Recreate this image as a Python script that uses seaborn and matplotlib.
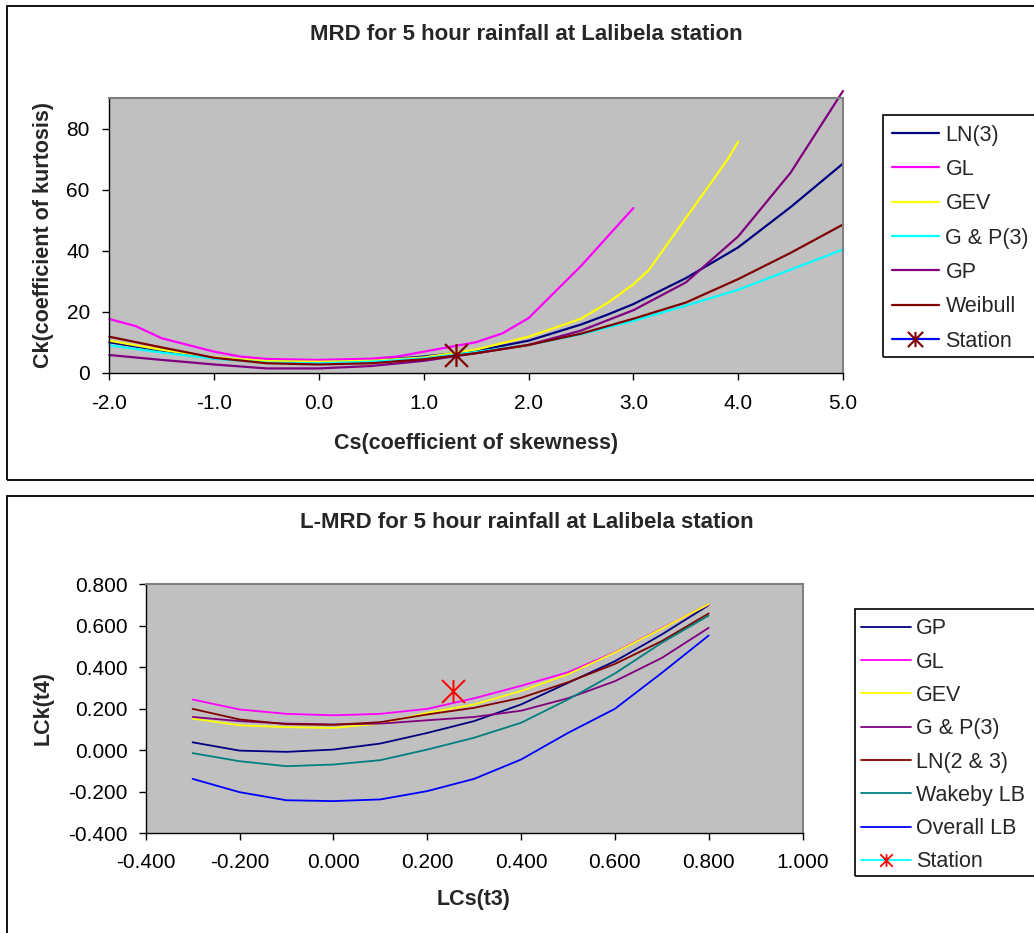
import pandas as pd
import matplotlib
matplotlib.use('Agg')
import matplotlib.pyplot as plt
import seaborn as sns
from matplotlib.lines import Line2D
from matplotlib.path import Path
from matplotlib.patches import Rectangle
from matplotlib.ticker import FormatStrFormatter, MultipleLocator

# ---------------- MRD (Cs vs Ck) ----------------
cs_grid = [-2.0, -1.5, -1.0, -0.5, 0.0, 0.5, 1.0, 1.5, 2.0, 2.5, 3.0, 3.5, 4.0, 4.5, 5.0]
cs_ln3 = [-2.0, -1.5, -1.0, -0.5, 0.0, 0.5, 1.0, 1.5, 2.0, 2.5, 2.75, 3.0, 3.5, 4.0, 4.5, 5.0]
ck_ln3 = [10.0, 7.2, 4.7, 3.6, 3.6, 3.9, 5.3, 7.2, 10.5, 15.8, 19.0, 22.5, 31.0, 41.1, 54.3, 68.6]
cs_gl = [-2.0, -1.75, -1.5, -1.0, -0.75, -0.5, 0.0, 0.5, 0.75, 1.0, 1.5, 1.75, 2.0, 2.5, 3.0]
ck_gl = [17.6, 15.3, 11.3, 6.9, 5.3, 4.5, 4.2, 4.6, 5.3, 6.9, 10.0, 12.9, 17.9, 35.0, 54.0]
cs_gev = [-2.0, -1.5, -1.0, -0.5, 0.0, 0.5, 1.0, 1.5, 2.0, 2.5, 2.75, 3.0, 3.15, 3.9, 4.0]
ck_gev = [10.5, 7.5, 5.0, 3.8, 3.6, 3.9, 5.0, 7.6, 11.8, 17.7, 22.8, 29.0, 33.8, 70.0, 75.8]
ck_gp3 = [9.0, 6.6, 4.6, 3.3, 3.1, 3.6, 4.7, 6.8, 9.1, 12.6, 17.0, 22.0, 27.2, 33.8, 40.4]
ck_gp = [5.8, 4.2, 2.7, 1.4, 1.4, 2.2, 3.9, 6.4, 9.1, 13.8, 20.5, 29.6, 44.7, 65.6, 92.4]
ck_weib = [11.8, 8.3, 4.9, 3.1, 2.7, 3.1, 4.4, 6.4, 9.1, 12.8, 17.7, 23.0, 30.7, 39.3, 48.6]
station_cs = [1.31]
station_ck = [5.8]

top_names = ['LN(3)', 'GL', 'GEV', 'G & P(3)', 'GP', 'Weibull']
top_colors = ['#000080', '#FF00FF', '#FFFF00', '#00FFFF', '#800080', '#800000']

# ---------------- L-MRD (LCs vs LCk) ----------------
lcs = [-0.3, -0.2, -0.1, 0.0, 0.1, 0.2, 0.3, 0.4, 0.5, 0.6, 0.7, 0.8]
lck_gp = [0.038, -0.002, -0.008, 0.003, 0.032, 0.083, 0.14, 0.22, 0.324, 0.428, 0.557, 0.698]
lck_gl = [0.244, 0.196, 0.175, 0.168, 0.175, 0.199, 0.25, 0.31, 0.375, 0.472, 0.587, 0.701]
lck_gev = [0.152, 0.12, 0.111, 0.107, 0.128, 0.18, 0.22, 0.285, 0.365, 0.47, 0.585, 0.703]
lck_gp3 = [0.16, 0.14, 0.128, 0.124, 0.128, 0.144, 0.16, 0.19, 0.25, 0.332, 0.444, 0.589]
lck_ln = [0.199, 0.148, 0.125, 0.122, 0.135, 0.172, 0.204, 0.252, 0.327, 0.415, 0.525, 0.658]
lck_wak = [-0.014, -0.053, -0.077, -0.069, -0.048, 0.003, 0.06, 0.132, 0.244, 0.369, 0.517, 0.648]
lck_olb = [-0.138, -0.202, -0.241, -0.245, -0.237, -0.197, -0.138, -0.045, 0.083, 0.199, 0.372, 0.552]
station_lcs = [0.254]
station_lck = [0.284]

bot_names = ['GP', 'GL', 'GEV', 'G & P(3)', 'LN(2 & 3)', 'Wakeby LB', 'Overall LB']
bot_colors = ['#000080', '#FF00FF', '#FFFF00', '#800080', '#800000', '#008080', '#0000FF']

# long tables for seaborn
top_series = [(cs_ln3, ck_ln3), (cs_gl, ck_gl), (cs_gev, ck_gev),
              (cs_grid, ck_gp3), (cs_grid, ck_gp), (cs_grid, ck_weib)]
df_top = pd.concat([pd.DataFrame({'x': xs, 'y': ys, 'dist': n})
                    for n, (xs, ys) in zip(top_names, top_series)])
bot_series = [lck_gp, lck_gl, lck_gev, lck_gp3, lck_ln, lck_wak, lck_olb]
df_bot = pd.concat([pd.DataFrame({'x': lcs, 'y': ys, 'dist': n})
                    for n, ys in zip(bot_names, bot_series)])

sns.set_theme(style='ticks')
plt.rcParams['font.family'] = ['Liberation Sans', 'DejaVu Sans']
plt.rcParams['axes.unicode_minus'] = False

W, H = 1034, 933
fig = plt.figure(figsize=(W / 100, H / 100), dpi=100)

# excel-like asterisk marker (vertical bar + X)
star = Path([(0, -1), (0, 1), (-1, -1), (1, 1), (-1, 1), (1, -1)],
            [Path.MOVETO, Path.LINETO, Path.MOVETO, Path.LINETO, Path.MOVETO, Path.LINETO])


def px_axes(left, top, right, bottom):
    return fig.add_axes([left / W, 1 - bottom / H, (right - left) / W, (bottom - top) / H])


def px_box(left, top, right, bottom, lw=1.3):
    fig.add_artist(Rectangle((left / W, 1 - bottom / H), (right - left) / W, (bottom - top) / H,
                             transform=fig.transFigure, fill=False, ec='black', lw=lw))


def style_axes(ax):
    ax.set_facecolor('#C0C0C0')
    for s in ['left', 'bottom']:
        ax.spines[s].set_color('black')
        ax.spines[s].set_linewidth(1.0)
    for s in ['top', 'right']:
        ax.spines[s].set_visible(True)
        ax.spines[s].set_color('#808080')
        ax.spines[s].set_linewidth(1.5)
    ax.tick_params(direction='out', length=5, width=1, color='black', labelsize=15, labelcolor='black')
    ax.set_xlabel('')
    ax.set_ylabel('')


# panel frames (run off the right/bottom edge like the cropped original)
px_box(6.7, 5.7, W + 20, 479.5)
px_box(6.7, 496, W + 20, H + 20)

# ---------------- top chart ----------------
ax1 = px_axes(109.3, 98.3, 843, 372.7)
sns.lineplot(data=df_top, x='x', y='y', hue='dist', hue_order=top_names,
             palette=dict(zip(top_names, top_colors)), ax=ax1, legend=False,
             linewidth=1.6, errorbar=None, sort=False)
for ln in ax1.lines:
    ln.set_clip_on(False)
ax1.plot(station_cs, station_ck, linestyle='none', marker=star, ms=16.5, mew=1.6,
         mec='#800000', mfc='none', zorder=5)
ax1.set_xlim(-2, 5)
ax1.set_ylim(0, 90)
ax1.xaxis.set_major_locator(MultipleLocator(1))
ax1.yaxis.set_major_locator(MultipleLocator(20))
ax1.xaxis.set_major_formatter(FormatStrFormatter('%.1f'))
ax1.yaxis.set_major_formatter(FormatStrFormatter('%d'))
style_axes(ax1)
ax1.tick_params(axis='x', pad=10)
ax1.tick_params(axis='y', pad=9)

h1 = [Line2D([0], [0], color=c, lw=1.6) for c in top_colors]
h1.append(Line2D([0], [0], color='#0000FF', lw=1.6, marker=star, ms=11, mew=1.5, mec='#800000'))
ax1.legend(h1, top_names + ['Station'], loc='upper left',
           bbox_to_anchor=(883 / W, 1 - 116 / H), bbox_transform=fig.transFigure,
           frameon=False, fontsize=15.5,
           handlelength=2.2, handletextpad=0.3, labelspacing=0.62,
           borderpad=0.4, borderaxespad=0)
px_box(883, 115, W + 20, 357, lw=1.2)

fig.text(526 / W, 1 - 34 / H, 'MRD for 5 hour rainfall at Lalibela station',
         ha='center', va='center', fontsize=16, fontweight='bold')
fig.text(476 / W, 1 - 443 / H, 'Cs(coefficient of skewness)',
         ha='center', va='center', fontsize=15.5, fontweight='bold')
fig.text(44 / W, 1 - 235 / H, 'Ck(coefficient of kurtosis)', rotation=90,
         ha='center', va='center', fontsize=15.5, fontweight='bold')

# ---------------- bottom chart ----------------
ax2 = px_axes(145.7, 584, 802.5, 833.3)
sns.lineplot(data=df_bot, x='x', y='y', hue='dist', hue_order=bot_names,
             palette=dict(zip(bot_names, bot_colors)), ax=ax2, legend=False,
             linewidth=1.3, errorbar=None, sort=False)
ax2.plot(station_lcs, station_lck, linestyle='none', marker=star, ms=16.5, mew=1.4,
         mec='#FF0000', mfc='none', zorder=5)
ax2.set_xlim(-0.4, 1.0)
ax2.set_ylim(-0.4, 0.8)
ax2.xaxis.set_major_locator(MultipleLocator(0.2))
ax2.yaxis.set_major_locator(MultipleLocator(0.2))
ax2.xaxis.set_major_formatter(FormatStrFormatter('%.3f'))
ax2.yaxis.set_major_formatter(FormatStrFormatter('%.3f'))
style_axes(ax2)
ax2.tick_params(axis='x', pad=9)
ax2.tick_params(axis='y', pad=8)

h2 = [Line2D([0], [0], color=c, lw=1.3) for c in bot_colors]
h2.append(Line2D([0], [0], color='#00FFFF', lw=1.3, marker=star, ms=9, mew=1.3, mec='#FF0000'))
ax2.legend(h2, bot_names + ['Station'], loc='upper left',
           bbox_to_anchor=(855 / W, 1 - 612 / H), bbox_transform=fig.transFigure,
           frameon=False, fontsize=15.5,
           handlelength=2.3, handletextpad=0.25, labelspacing=0.57,
           borderpad=0.3, borderaxespad=0)
px_box(855, 609, W + 20, 876, lw=1.2)

fig.text(527 / W, 1 - 523 / H, 'L-MRD for 5 hour rainfall at Lalibela station',
         ha='center', va='center', fontsize=16, fontweight='bold')
fig.text(474 / W, 1 - 900 / H, 'LCs(t3)',
         ha='center', va='center', fontsize=15.5, fontweight='bold')
fig.text(43 / W, 1 - 708 / H, 'LCk(t4)', rotation=90,
         ha='center', va='center', fontsize=15.5, fontweight='bold')

fig.savefig('out.png', dpi=100)
